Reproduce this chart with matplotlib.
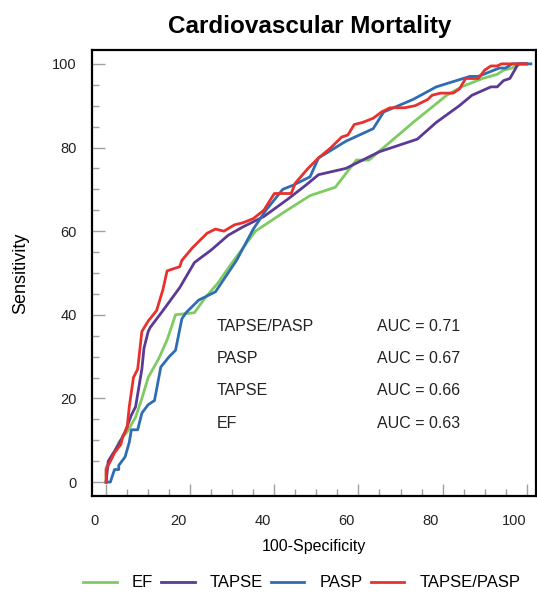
import numpy as np
import matplotlib
matplotlib.use("Agg")
import matplotlib.pyplot as plt
import matplotlib.transforms as mtransforms
from matplotlib.ticker import MultipleLocator

plt.rcParams['font.family'] = ['Liberation Sans', 'DejaVu Sans']

# curves (100-specificity, sensitivity)
ef_x = [0, 0, 1, 3, 5, 7, 8.5, 10, 12.5, 14.5, 16.5, 21, 23.5, 26.5, 30, 35.5, 43, 48.5,
        54.5, 59.5, 62.5, 73, 81, 84.5, 89.5, 93, 94.5, 96.5, 98.5, 100]
ef_y = [0, 3.5, 5, 9.5, 12, 15.5, 20, 25, 29.5, 34, 40, 40.5, 44, 47.5, 52.5, 60, 65, 68.5,
        70.5, 77, 77, 86, 92.5, 94.5, 96.5, 97.5, 98.5, 99, 100, 100]

tapse_x = [0, 0.5, 3, 4.5, 6, 7, 8.5, 9, 10, 10.5, 13.5, 17.5, 21, 25, 29, 32.5, 37.5, 43,
           47.5, 50.5, 57, 61, 65, 69.5, 74, 78.5, 84, 87, 91.5, 93, 94.5, 96, 98, 100]
tapse_y = [0, 5, 9, 12, 16, 18, 27, 32, 36, 37, 41, 46.5, 52.5, 55.5, 59, 61, 63.5, 67.5,
           71, 73.5, 75, 77, 79, 80.5, 82, 86, 90, 92.5, 94.5, 94.5, 96, 96.5, 100, 100]

pasp_x = [0, 1, 1.5, 2, 3, 3, 4.5, 5.5, 6, 7.5, 8.5, 10, 11.5, 13, 15, 16.5, 18, 19, 22, 26,
          28, 31, 35, 38, 42, 44.5, 48.5, 50.5, 57, 63.5, 66, 73, 78.5, 86.5, 88.5, 93.5,
          95, 96.5, 101]
pasp_y = [0, 0, 1.5, 3, 3, 4, 6, 9.5, 12.5, 12.5, 16.5, 18.5, 19.5, 27.5, 30, 31.5, 39, 40.5,
          43.5, 45.5, 48.5, 53, 60.5, 65, 70, 71, 73, 77.5, 81.5, 84.5, 88.5, 91.5, 94.5, 97,
          97, 99, 99, 100, 100]

ratio_x = [0, 0, 1, 2, 3.5, 4, 5, 5.5, 6.5, 7.5, 8.5, 10, 12, 13.5, 14.5, 17.5, 18, 20.5, 24,
           26, 28, 30.5, 32.5, 35, 37.5, 40, 44, 45, 48, 50.5, 53.5, 56, 57.5, 59, 61, 63.5,
           65.5, 67.5, 71, 73.5, 76.5, 77.5, 79.5, 82.5, 84, 85.5, 88.5, 90, 91.5, 93, 94, 100]
ratio_y = [0, 3, 5, 7, 9, 11, 13, 18, 25, 27, 36, 38.5, 41, 46, 50.5, 51.5, 53, 56, 59.5,
           60.5, 60, 61.5, 62, 63, 65, 69, 69, 71.5, 75, 77.5, 80, 82.5, 83, 85.5, 86, 87,
           88.5, 89.5, 89.5, 90, 91.5, 92.5, 93, 93, 94, 96.5, 96.5, 98.5, 99.5, 99.5, 100, 100]

names = ['TAPSE/PASP', 'PASP', 'TAPSE', 'EF']
auc = [0.71, 0.67, 0.66, 0.63]

fig = plt.figure(figsize=(5.37, 5.96), dpi=100)
ax = fig.add_axes([0.171, 0.168, 0.827, 0.748])

ax.plot(ef_x, ef_y, color='#7fcb62', lw=2.0, label='EF')
ax.plot(tapse_x, tapse_y, color='#5b3a96', lw=2.0, label='TAPSE')
ax.plot(pasp_x, pasp_y, color='#2e6db4', lw=2.0, label='PASP')
ax.plot(ratio_x, ratio_y, color='#e8302c', lw=2.0, label='TAPSE/PASP')

ax.set_xlim(-3.4, 102.2)
ax.set_ylim(-3.3, 103.3)
ax.xaxis.set_major_locator(MultipleLocator(20))
ax.xaxis.set_minor_locator(MultipleLocator(5))
ax.yaxis.set_major_locator(MultipleLocator(20))
ax.yaxis.set_minor_locator(MultipleLocator(5))
ax.tick_params(which='major', direction='in', length=9, width=1, color='#a0a0a0',
               labelsize=10.5, labelcolor='#222222')
ax.tick_params(which='minor', direction='in', length=5, width=1, color='#a0a0a0')
ax.tick_params(axis='x', which='major', pad=13)
ax.tick_params(axis='y', which='major', pad=11)
for s in ax.spines.values():
    s.set_linewidth(1.6)

# x labels sit a little left of their ticks in the original
shift = mtransforms.ScaledTranslation(-0.12, 0, fig.dpi_scale_trans)
for lab in ax.get_xticklabels():
    lab.set_transform(lab.get_transform() + shift)

ax.set_xlabel('100-Specificity', fontsize=11.5, labelpad=8)
ax.set_ylabel('Sensitivity', fontsize=13, labelpad=16)
ax.set_title('Cardiovascular Mortality', fontsize=17.5, fontweight='bold', pad=12, x=0.49)

for i, (n, a) in enumerate(zip(names, auc)):
    yy = 37.2 - i * 7.7
    ax.text(26.2, yy, n, fontsize=11.5, va='center', color='#222222')
    ax.text(64.5, yy, f'AUC = {a:.2f}', fontsize=11.5, va='center', color='#222222')

fig.legend(loc='center', bbox_to_anchor=(0.562, 0.022), ncol=4, frameon=False,
           fontsize=12, handlelength=2.0, handletextpad=0.9, columnspacing=0.5)

fig.savefig('out.png', dpi=100)
